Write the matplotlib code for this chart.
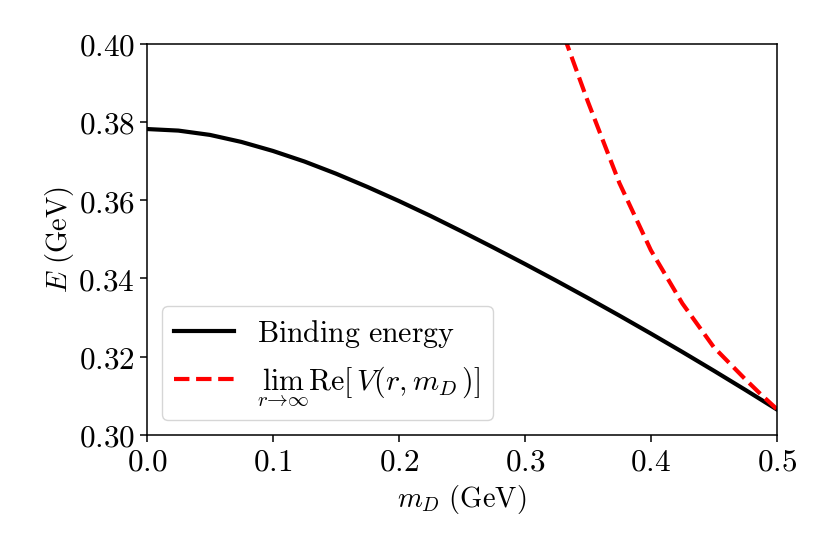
import matplotlib
matplotlib.use("Agg")
import matplotlib.pyplot as plt
from matplotlib.ticker import FuncFormatter

# computer-modern look for all the text
plt.rcParams["mathtext.fontset"] = "cm"
plt.rcParams["font.family"] = "serif"
plt.rcParams["font.serif"] = ["DejaVu Serif"]

# binding energy vs Debye mass
m_bind = [0.0, 0.025, 0.05, 0.075, 0.1, 0.125, 0.15, 0.175, 0.2, 0.225, 0.25,
          0.275, 0.3, 0.325, 0.35, 0.375, 0.4, 0.425, 0.45, 0.475, 0.5]
e_bind = [0.3782, 0.3778, 0.3767, 0.3749, 0.3726, 0.3699, 0.3668, 0.3634, 0.3598,
          0.3560, 0.3520, 0.3479, 0.3437, 0.3394, 0.3350, 0.3305, 0.3259, 0.3212,
          0.3164, 0.3115, 0.3065]

# asymptotic value of the real part of the potential
m_lim = [0.325, 0.35, 0.375, 0.4, 0.425, 0.45, 0.475, 0.4875, 0.5]
e_lim = [0.4073, 0.3852, 0.3644, 0.3472, 0.3336, 0.3224, 0.3142, 0.3103, 0.3066]

xticks = [0.0, 0.1, 0.2, 0.3, 0.4, 0.5]
yticks = [0.30, 0.32, 0.34, 0.36, 0.38, 0.40]

fig, ax = plt.subplots(figsize=(8.3, 5.54), dpi=100)
fig.subplots_adjust(left=0.177, right=0.936, top=0.921, bottom=0.215)

ax.plot(m_bind, e_bind, color="black", linewidth=3, label=r"$\mathrm{Binding\ energy}$")
ax.plot(m_lim, e_lim, color="red", linewidth=3, linestyle="--",
        label=r"$\lim_{r\to\infty}\mathrm{Re}[\,V(r,m_D)]$")

ax.set_xlim(0, 0.5)
ax.set_ylim(0.30, 0.40)
ax.set_xticks(xticks)
ax.set_yticks(yticks)
ax.xaxis.set_major_formatter(FuncFormatter(lambda v, p: r"$%.1f$" % v))
ax.yaxis.set_major_formatter(FuncFormatter(lambda v, p: r"$%.2f$" % v))
ax.tick_params(labelsize=22.5, length=5, width=1.1)
for s in ax.spines.values():
    s.set_linewidth(1.1)

ax.set_xlabel(r"$m_D\ \mathrm{(GeV)}$", fontsize=20.5)
ax.set_ylabel(r"$E\ \mathrm{(GeV)}$", fontsize=20.5, labelpad=1.5)

ax.legend(loc="lower left", fontsize=21.5)

fig.savefig("out.png", dpi=100)
